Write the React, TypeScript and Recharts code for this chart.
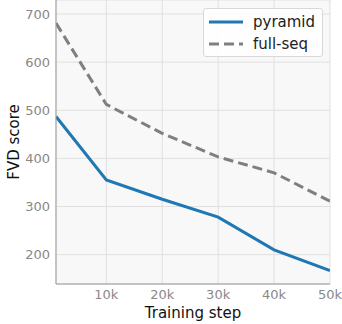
import React from "react";
import { LineChart, Line, XAxis, YAxis, CartesianGrid } from "recharts";

const steps = [1000, 10000, 20000, 30000, 40000, 50000];
const pyramid = [487, 355, 315, 278, 210, 167];
const fullSeq = [681, 512, 452, 403, 370, 311];
const xTicks = [10000, 20000, 30000, 40000, 50000];
const yTicks = [200, 300, 400, 500, 600, 700];

const data = steps.map((s, i) => ({
  step: s,
  pyramid: pyramid[i],
  fullSeq: fullSeq[i],
}));

const FONT = "'DejaVu Sans', sans-serif";

const LegendBox = () => (
  <div
    style={{
      position: "absolute",
      left: 203,
      top: 8,
      width: 118,
      height: 47,
      border: "1px solid #d8d8d8",
      borderRadius: 3,
      background: "rgba(255,255,255,0.85)",
    }}
  >
    <svg width={118} height={47} style={{ display: "block" }}>
      <line x1={5} x2={39} y1={13} y2={13} stroke="#1f77b4" strokeWidth={3} />
      <text x={49} y={18} fontSize={15} fill="#222" fontFamily={FONT}>
        pyramid
      </text>
      <line
        x1={5}
        x2={39}
        y1={35}
        y2={35}
        stroke="#7f7f7f"
        strokeWidth={3}
        strokeDasharray="10 5"
      />
      <text x={49} y={40} fontSize={15} fill="#222" fontFamily={FONT}>
        full-seq
      </text>
    </svg>
  </div>
);

export default function App() {
  return (
    <div style={{ position: "absolute", left: 0, top: 0, width: 342, height: 324 }}>
      <LineChart
        width={342}
        height={324}
        data={data}
        margin={{ top: 0, right: 12, bottom: 0, left: 0 }}
        style={{ fontFamily: FONT }}
      >
        <CartesianGrid stroke="#e0e0e0" fill="#f8f8f8" strokeWidth={1} />
        <XAxis
          dataKey="step"
          type="number"
          domain={[1000, 50000]}
          ticks={xTicks}
          allowDataOverflow
          tickFormatter={(v) => `${v / 1000}k`}
          tick={{ fill: "#888", fontSize: 13 }}
          tickLine={false}
          tickSize={6}
          tickMargin={0}
          axisLine={{ stroke: "#999" }}
          height={40}
          label={{
            value: "Training step",
            position: "insideBottom",
            offset: 6,
            fill: "#111",
            fontSize: 15,
          }}
        />
        <YAxis
          type="number"
          domain={[139, 729]}
          ticks={yTicks}
          allowDataOverflow
          tick={{ fill: "#888", fontSize: 13 }}
          tickLine={false}
          tickSize={4}
          tickMargin={2}
          axisLine={{ stroke: "#999" }}
          width={56}
          label={{
            value: "FVD score",
            angle: -90,
            position: "insideLeft",
            offset: 14,
            fill: "#111",
            fontSize: 15,
            style: { textAnchor: "middle" },
          }}
        />
        <YAxis
          yAxisId="right"
          orientation="right"
          width={0}
          tick={false}
          tickLine={false}
          axisLine={{ stroke: "#999" }}
        />
        <Line
          dataKey="fullSeq"
          name="full-seq"
          stroke="#7f7f7f"
          strokeWidth={3}
          strokeDasharray="10 5"
          dot={false}
          isAnimationActive={false}
        />
        <Line
          dataKey="pyramid"
          name="pyramid"
          stroke="#1f77b4"
          strokeWidth={3}
          dot={false}
          isAnimationActive={false}
        />
      </LineChart>
      <LegendBox />
    </div>
  );
}
